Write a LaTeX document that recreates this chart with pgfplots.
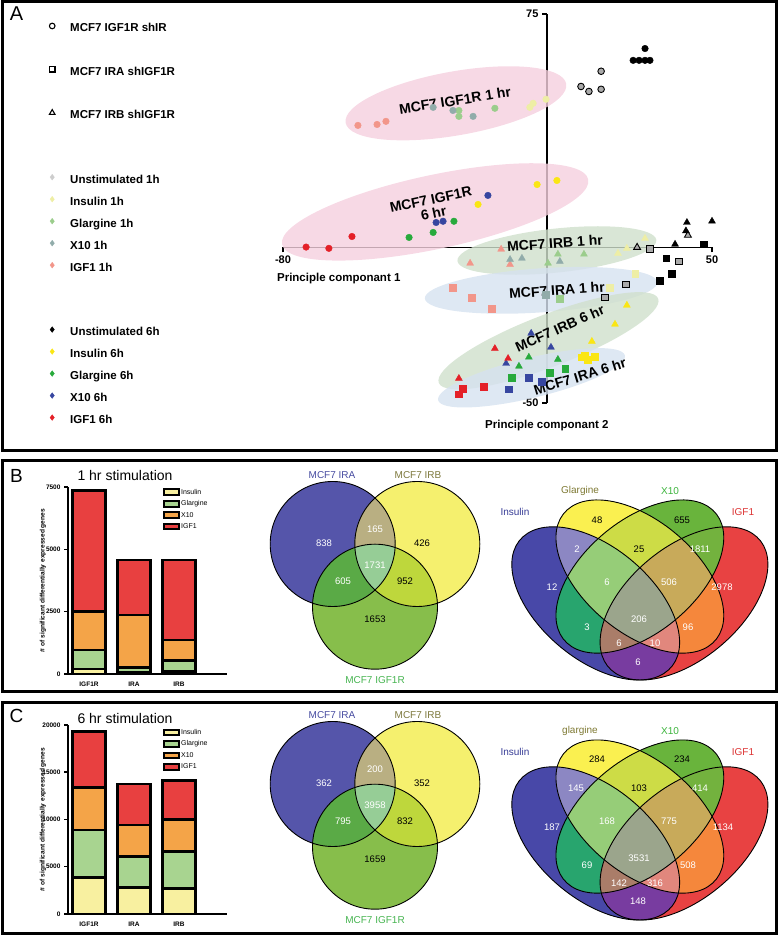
\documentclass[border=0pt]{standalone}
\usepackage{fontspec}
\setmainfont{Liberation Sans}
\usepackage{pgfplots}
\pgfplotsset{compat=1.18}
\usetikzlibrary{shapes.geometric}

\newcommand\fs[1]{\fontsize{#1}{#1}\selectfont}

% PCA colours
\definecolor{un1}{RGB}{170,170,170}
\definecolor{un1l}{RGB}{205,205,205}
\definecolor{in1}{RGB}{238,238,165}
\definecolor{gl1}{RGB}{155,205,140}
\definecolor{xt1}{RGB}{145,172,170}
\definecolor{ig1}{RGB}{242,150,138}
\definecolor{in6}{RGB}{250,230,20}
\definecolor{gl6}{RGB}{40,170,60}
\definecolor{xt6}{RGB}{55,70,160}
\definecolor{ig6}{RGB}{228,32,40}
\definecolor{elpink}{RGB}{245,208,222}
\definecolor{elgreen}{RGB}{208,224,204}
\definecolor{elblue}{RGB}{214,226,240}
% bar colours
\definecolor{bIns}{RGB}{248,240,160}
\definecolor{bGla}{RGB}{168,212,144}
\definecolor{bX}{RGB}{244,164,72}
\definecolor{bIgf}{RGB}{232,64,64}
% venn colours
\definecolor{tA}{RGB}{85,85,170}
\definecolor{tB}{RGB}{245,240,110}
\definecolor{tC}{RGB}{135,190,75}
\definecolor{tAB}{RGB}{185,175,130}
\definecolor{tAC}{RGB}{90,170,70}
\definecolor{tBC}{RGB}{190,215,60}
\definecolor{tABC}{RGB}{150,205,150}
\definecolor{vI}{RGB}{72,72,168}
\definecolor{vG}{RGB}{250,240,80}
\definecolor{vX}{RGB}{105,180,60}
\definecolor{vF}{RGB}{232,66,66}
\definecolor{vIG}{RGB}{140,135,195}
\definecolor{vIX}{RGB}{40,165,110}
\definecolor{vIF}{RGB}{120,60,160}
\definecolor{vGX}{RGB}{205,220,70}
\definecolor{vGF}{RGB}{245,135,60}
\definecolor{vXF}{RGB}{115,178,62}
\definecolor{vIGX}{RGB}{150,205,120}
\definecolor{vIGF}{RGB}{225,135,125}
\definecolor{vIXF}{RGB}{170,125,105}
\definecolor{vGXF}{RGB}{200,170,90}
\definecolor{vIGXF}{RGB}{155,165,140}
\definecolor{lIRA}{RGB}{70,75,160}
\definecolor{lIRB}{RGB}{125,120,60}
\definecolor{lIGF}{RGB}{70,180,80}
\definecolor{lIns}{RGB}{55,60,150}
\definecolor{lGla}{RGB}{125,120,50}
\definecolor{lX}{RGB}{60,180,60}
\definecolor{lF}{RGB}{220,50,50}

% three-set venn (cell lines)
\newcommand\CA[1]{#1 (-42.3,31) circle [radius=62.5];}
\newcommand\CB[1]{#1 (42.3,31) circle [radius=62.5];}
\newcommand\CC[1]{#1 (0,-31.7) circle [radius=62.5];}
\newcommand\Rg[2]{\begin{scope}[fill=#1]#2\end{scope}}
\newcommand\ThreeVenn{%
  \Rg{tA}{\CA\fill}\Rg{tB}{\CB\fill}\Rg{tC}{\CC\fill}
  \Rg{tAB}{\CA\clip\CB\fill}
  \Rg{tAC}{\CA\clip\CC\fill}
  \Rg{tBC}{\CB\clip\CC\fill}
  \Rg{tABC}{\CA\clip\CB\clip\CC\fill}
  \begin{scope}[line width=0.9pt]\CA\draw\CB\draw\CC\draw\end{scope}}
% four-set venn (ligands)
\newcommand\EI[1]{#1[rotate around={-45:(35,47)}] (35,47) ellipse [x radius=35, y radius=20];}
\newcommand\EG[1]{#1[rotate around={-45:(50,57)}] (50,57) ellipse [x radius=35, y radius=20];}
\newcommand\EX[1]{#1[rotate around={45:(50,57)}] (50,57) ellipse [x radius=35, y radius=20];}
\newcommand\EF[1]{#1[rotate around={45:(65,47)}] (65,47) ellipse [x radius=35, y radius=20];}
\newcommand\FourVenn{%
  \Rg{vI}{\EI\fill}\Rg{vG}{\EG\fill}\Rg{vX}{\EX\fill}\Rg{vF}{\EF\fill}
  \Rg{vIG}{\EI\clip\EG\fill}
  \Rg{vIX}{\EI\clip\EX\fill}
  \Rg{vIF}{\EI\clip\EF\fill}
  \Rg{vGX}{\EG\clip\EX\fill}
  \Rg{vGF}{\EG\clip\EF\fill}
  \Rg{vXF}{\EX\clip\EF\fill}
  \Rg{vIGX}{\EI\clip\EG\clip\EX\fill}
  \Rg{vIGF}{\EI\clip\EG\clip\EF\fill}
  \Rg{vIXF}{\EI\clip\EX\clip\EF\fill}
  \Rg{vGXF}{\EG\clip\EX\clip\EF\fill}
  \Rg{vIGXF}{\EI\clip\EG\clip\EX\clip\EF\fill}
  \begin{scope}[line width=0.9pt]\EI\draw\EG\draw\EX\draw\EF\draw\end{scope}}
\newcommand\vn[4]{\node[text=#3, font=\fs{9.5}] at (#1,#2) {#4};}

\pgfplotsset{
  C/.style={forget plot, only marks, mark=*, mark size=3.3pt, mark options={draw=#1, fill=#1}},
  S/.style={forget plot, only marks, mark=square*, mark size=3.4pt, mark options={draw=#1, fill=#1}},
  T/.style={forget plot, only marks, mark=triangle*, mark size=4pt, mark options={draw=#1, fill=#1}},
  CO/.style={forget plot, only marks, mark=*, mark size=3.3pt, mark options={draw=black, fill=un1, line width=0.9pt}},
  SO/.style={forget plot, only marks, mark=square*, mark size=3.4pt, mark options={draw=black, fill=un1, line width=0.9pt}},
  TO/.style={forget plot, only marks, mark=triangle*, mark size=4pt, mark options={draw=black, fill=un1, line width=0.9pt}},
  barax/.style={
    anchor=south west, scale only axis, width=159pt,
    ybar stacked, bar width=33pt,
    xmin=0.533, xmax=4.07, ymin=0, enlargelimits=false,
    axis x line=bottom, axis y line=left,
    axis line style={-, line width=2.8pt, black},
    xtick={1,2,3}, xticklabels={IGF1R,IRA,IRB}, xtick style={draw=none},
    tick align=outside, major tick length=4pt,
    ytick style={line width=1.5pt, black},
    ticklabel style={font=\fs{6.5}\bfseries},
    /pgf/number format/assume math mode=true,
    /pgf/number format/1000 sep={}, scaled y ticks=false,
    ylabel={\# of significant differentially expressed genes},
    ylabel style={font=\fs{6.6}\bfseries, at={(axis description cs:-0.157,0.5)}, anchor=center},
    every axis plot/.append style={draw=black, line width=2.8pt},
    legend cell align=left,
    legend style={anchor=north west, draw=none, fill=none, inner sep=0pt,
      row sep=3pt, font=\fs{7}, nodes={inner sep=1pt}},
    legend image code/.code={\draw[#1, line width=2pt] (0pt,-2.6pt) rectangle (15pt,3pt);},
    clip=false,
  },
}

\begin{document}
\begin{tikzpicture}
\useasboundingbox (0pt,0pt) rectangle (778pt,936pt);

% ---------- panel A: PCA ----------
\begin{axis}[
  at={(283pt,533pt)}, anchor=south west, scale only axis,
  width=429pt, height=389pt,
  xmin=-80, xmax=50, ymin=-50, ymax=75, enlargelimits=false,
  axis lines=middle, axis line style={-, line width=1.3pt, black},
  xtick={-80,50}, ytick={-50,75},
  tick align=outside, major tick length=5pt,
  tick style={line width=1.2pt, black},
  ticklabel style={font=\fs{11}\bfseries},
  /pgf/number format/assume math mode=true,
  clip=false,
  legend cell align=left,
  legend style={at={(axis description cs:-0.5524,0.9769)}, anchor=north west,
    draw=none, fill=none, inner sep=0pt, row sep=11.2pt,
    font=\fs{11.5}\bfseries,
    nodes={inner sep=0pt, text height=8pt, text depth=2pt}},
  legend image code/.code={\path[draw=none, fill=none] (0pt,0pt) (24pt,0pt);
    \draw[#1] plot coordinates {(6pt,3pt)};},
]
% group ellipses
\node[ellipse, inner sep=0pt, fill=elpink, fill opacity=0.8, minimum width=224pt, minimum height=64pt, rotate=10] at (axis cs:-27.6,46.3) {};
\node[ellipse, inner sep=0pt, fill=elpink, fill opacity=0.8, minimum width=313pt, minimum height=74pt, rotate=12] at (axis cs:-33.9,11.4) {};
\node[ellipse, inner sep=0pt, fill=elgreen, fill opacity=0.8, minimum width=200pt, minimum height=44pt, rotate=6] at (axis cs:3.0,-1.0) {};
\node[ellipse, inner sep=0pt, fill=elblue, fill opacity=0.8, minimum width=233pt, minimum height=44pt, rotate=4] at (axis cs:-1.8,-13.8) {};
\node[ellipse, inner sep=0pt, fill=elgreen, fill opacity=0.8, minimum width=235pt, minimum height=52pt, rotate=21] at (axis cs:0.45,-30.0) {};
\node[ellipse, inner sep=0pt, fill=elblue, fill opacity=0.8, minimum width=192pt, minimum height=40pt, rotate=13.5] at (axis cs:-4.7,-41.9) {};

% MCF7 IGF1R shIR (circles)
\addplot[C=black] coordinates {(29.7,63.9) (26.1,60.1) (27.9,60.1) (29.7,60.1) (31.2,60.1)};
\addplot[CO] coordinates {(16.4,56.6) (10.3,51.7) (12.7,50.1) (16.4,50.8)};
\addplot[C=in1] coordinates {(-0.3,47.6) (-5.2,45.0) (-4.2,46.3)};
\addplot[C=gl1] coordinates {(-26.7,44.0) (-26.7,42.1) (-15.8,44.7)};
\addplot[C=xt1] coordinates {(-34.5,45.0) (-28.5,44.0) (-22.4,42.1)};
\addplot[C=ig1] coordinates {(-57.3,39.2) (-51.5,39.5) (-48.8,40.5)};
\addplot[C=in6] coordinates {(-3.0,20.2) (3.0,21.5) (-20.9,13.8)};
\addplot[C=xt6] coordinates {(-17.9,16.7) (-33.6,8.0) (-31.5,8.4)};
\addplot[C=gl6] coordinates {(-28.2,8.4) (-34.5,4.8) (-41.8,3.2)};
\addplot[C=ig6] coordinates {(-59.1,3.5) (-73.0,0.1) (-66.1,-0.3)};
% MCF7 IRB shIGF1R (triangles)
\addplot[T=ig1] coordinates {(-13.9,-0.6) (-23.3,-5.1) (-11.2,-5.5)};
\addplot[T=xt1] coordinates {(-11.2,-3.9) (-7.6,-3.5) (3.9,-4.5)};
\addplot[T=gl1] coordinates {(3.3,-2.2) (11.2,-2.2) (0.3,-5.1)};
\addplot[T=in1] coordinates {(21.5,-1.9) (29.7,2.9) (24.2,-0.3)};
\addplot[TO] coordinates {(27.3,0.0) (42.7,3.9)};
\addplot[T=black] coordinates {(42.4,8.0) (42.1,5.3) (50.0,8.4) (38.8,1.0)};
\addplot[T=in6] coordinates {(24.2,-18.6) (20.6,-24.7) (13.6,-30.2)};
\addplot[T=xt6] coordinates {(-4.8,-27.6) (1.2,-32.1) (-12.4,-37.3)};
\addplot[T=gl6] coordinates {(-5.5,-35.3) (3.3,-36.0) (-8.5,-38.2)};
\addplot[T=ig6] coordinates {(-15.8,-32.5) (-11.8,-35.7) (-26.7,-42.1)};
% MCF7 IRA shIGF1R (squares)
\addplot[S=black] coordinates {(47.6,1.0) (36.1,-3.5) (37.9,-8.4) (34.2,-10.6)};
\addplot[SO] coordinates {(31.2,-0.6) (40.0,-4.5) (23.9,-11.9) (17.6,-16.1)};
\addplot[S=ig1] coordinates {(-28.5,-12.9) (-22.7,-16.1) (-16.7,-19.6)};
\addplot[S=gl1] coordinates {(3.9,-16.4)};
\addplot[S=xt1] coordinates {(-0.3,-15.1)};
\addplot[S=in1] coordinates {(26.7,-8.4) (19.1,-12.9)};
\addplot[S=in6] coordinates {(10.6,-35.3) (12.4,-36.0) (14.5,-35.0) (11.5,-34.7)};
\addplot[S=gl6] coordinates {(-10.6,-41.8) (0.9,-40.2) (5.5,-38.9)};
\addplot[S=xt6] coordinates {(-5.5,-41.8) (-11.5,-45.6) (-1.5,-43.1)};
\addplot[S=ig6] coordinates {(-25.5,-45.3) (-26.7,-47.2) (-19.1,-44.7)};

% group labels
\node[font=\fs{14}\bfseries, rotate=9] at (axis cs:-27.9,47.2) {MCF7 IGF1R 1 hr};
\node[font=\fs{14}\bfseries, rotate=12, align=center] at (axis cs:-34.8,13.2) {MCF7 IGF1R\\6 hr};
\node[font=\fs{14}\bfseries, rotate=4] at (axis cs:2.4,1.3) {MCF7 IRB 1 hr};
\node[font=\fs{14}\bfseries, rotate=4] at (axis cs:3.0,-13.8) {MCF7 IRA 1 hr};
\node[font=\fs{14}\bfseries, rotate=24] at (axis cs:3.9,-26.0) {MCF7 IRB 6 hr};
\node[font=\fs{14}\bfseries, rotate=17] at (axis cs:10.0,-41.5) {MCF7 IRA 6 hr};
\node[font=\fs{11.5}\bfseries] at (axis description cs:0.13,0.319) {Principle componant 1};
\node[font=\fs{11.5}\bfseries] at (axis description cs:0.615,-0.057) {Principle componant 2};

% legend
\addlegendimage{only marks, mark=o, mark size=2.8pt, black, mark options={line width=1.1pt}}
\addlegendentry{MCF7 IGF1R shIR}
\addlegendimage{empty legend}\addlegendentry{}
\addlegendimage{only marks, mark=square, mark size=2.8pt, black, mark options={line width=1.1pt}}
\addlegendentry{MCF7 IRA shIGF1R}
\addlegendimage{empty legend}\addlegendentry{}
\addlegendimage{only marks, mark=triangle, mark size=3.2pt, black, mark options={line width=1.1pt}}
\addlegendentry{MCF7 IRB shIGF1R}
\addlegendimage{empty legend}\addlegendentry{}
\addlegendimage{empty legend}\addlegendentry{}
\addlegendimage{only marks, mark=diamond*, mark size=2.8pt, un1l}
\addlegendentry{Unstimulated 1h}
\addlegendimage{only marks, mark=diamond*, mark size=2.8pt, in1}
\addlegendentry{Insulin 1h}
\addlegendimage{only marks, mark=diamond*, mark size=2.8pt, gl1}
\addlegendentry{Glargine 1h}
\addlegendimage{only marks, mark=diamond*, mark size=2.8pt, xt1}
\addlegendentry{X10 1h}
\addlegendimage{only marks, mark=diamond*, mark size=2.8pt, ig1}
\addlegendentry{IGF1 1h}
\addlegendimage{empty legend}\addlegendentry{}
\addlegendimage{empty legend}\addlegendentry{}
\addlegendimage{only marks, mark=diamond*, mark size=2.8pt, black}
\addlegendentry{Unstimulated 6h}
\addlegendimage{only marks, mark=diamond*, mark size=2.8pt, in6}
\addlegendentry{Insulin 6h}
\addlegendimage{only marks, mark=diamond*, mark size=2.8pt, gl6}
\addlegendentry{Glargine 6h}
\addlegendimage{only marks, mark=diamond*, mark size=2.8pt, xt6}
\addlegendentry{X10 6h}
\addlegendimage{only marks, mark=diamond*, mark size=2.8pt, ig6}
\addlegendentry{IGF1 6h}
\end{axis}

% ---------- panel B: 1 hr bars ----------
\begin{axis}[barax, at={(68pt,262pt)}, height=187pt, ymax=7500,
  ytick={0,2500,5000,7500},
  legend style={at={(axis description cs:0.597,0.995)}}]
\addplot[fill=bIns] coordinates {(1,200) (2,70) (3,100)};
\addlegendentry{Insulin}
\addplot[fill=bGla] coordinates {(1,760) (2,200) (3,435)};
\addlegendentry{Glargine}
\addplot[fill=bX] coordinates {(1,1540) (2,2100) (3,830)};
\addlegendentry{X10}
\addplot[fill=bIgf] coordinates {(1,4850) (2,2205) (3,3210)};
\addlegendentry{IGF1}
\end{axis}

% ---------- panel C: 6 hr bars ----------
\begin{axis}[barax, at={(68pt,22pt)}, height=189pt, ymax=20000,
  ytick={0,5000,10000,15000,20000},
  legend style={at={(axis description cs:0.597,0.984)}}]
\addplot[fill=bIns] coordinates {(1,3880) (2,2790) (3,2720)};
\addlegendentry{Insulin}
\addplot[fill=bGla] coordinates {(1,5010) (2,3270) (3,3880)};
\addlegendentry{Glargine}
\addplot[fill=bX] coordinates {(1,4480) (2,3360) (3,3420)};
\addlegendentry{X10}
\addplot[fill=bIgf] coordinates {(1,5920) (2,4340) (3,4090)};
\addlegendentry{IGF1}
\end{axis}

% ---------- venn diagrams ----------
\begin{scope}[shift={(375pt,361pt)}, x=1pt, y=1pt]\ThreeVenn\end{scope}
\begin{scope}[shift={(375pt,121pt)}, x=1pt, y=1pt]\ThreeVenn\end{scope}
\begin{scope}[shift={(492.7pt,206.3pt)}, x=1pt, y=1pt, xscale=2.943, yscale=2.687]\FourVenn\end{scope}
\begin{scope}[shift={(492.7pt,-33.7pt)}, x=1pt, y=1pt, xscale=2.943, yscale=2.687]\FourVenn\end{scope}

% ---------- frames, panel letters and venn text (image pixel coordinates) ----------
\begin{scope}[shift={(0pt,936pt)}, x=1pt, y=-1pt]
  \draw[line width=3pt] (2,2) rectangle (776,451);
  \draw[line width=3pt] (2,461) rectangle (776,692);
  \draw[line width=3pt] (2,703) rectangle (776,934);
  \node[font=\fs{20}] at (16.5,14) {A};
  \node[font=\fs{19}] at (16.5,476) {B};
  \node[font=\fs{19}] at (16.5,716) {C};
  \node[font=\fs{14}] at (125,476) {1 hr stimulation};
  \node[font=\fs{14}] at (125,718) {6 hr stimulation};
  % 3-set venn labels
  \node[font=\fs{10}, text=lIRA] at (332,475) {MCF7 IRA};
  \node[font=\fs{10}, text=lIRB] at (418,475) {MCF7 IRB};
  \node[font=\fs{10}, text=lIGF] at (375,680) {MCF7 IGF1R};
  \node[font=\fs{10}, text=lIRA] at (332,715) {MCF7 IRA};
  \node[font=\fs{10}, text=lIRB] at (418,715) {MCF7 IRB};
  \node[font=\fs{10}, text=lIGF] at (375,920) {MCF7 IGF1R};
  \vn{324}{543}{white}{838} \vn{375}{529}{white}{165} \vn{422}{543}{black}{426}
  \vn{375}{565}{white}{1731} \vn{343}{581}{white}{605} \vn{405}{581}{black}{952}
  \vn{375}{619}{black}{1653}
  \vn{324}{783}{white}{362} \vn{375}{769}{white}{200} \vn{422}{783}{black}{352}
  \vn{375}{805}{white}{3958} \vn{343}{821}{white}{795} \vn{405}{821}{black}{832}
  \vn{375}{859}{black}{1659}
  % 4-set venn labels
  \node[font=\fs{10}, text=lIns] at (515,512) {Insulin};
  \node[font=\fs{10}, text=lGla] at (580,491) {Glargine};
  \node[font=\fs{10}, text=lX] at (670,491) {X10};
  \node[font=\fs{10}, text=lF] at (743,512) {IGF1};
  \node[font=\fs{10}, text=lIns] at (515,752) {Insulin};
  \node[font=\fs{10}, text=lGla] at (580,731) {glargine};
  \node[font=\fs{10}, text=lX] at (670,731) {X10};
  \node[font=\fs{10}, text=lF] at (743,752) {IGF1};
  \vn{552}{587}{white}{12} \vn{597}{520}{black}{48} \vn{682}{520}{black}{655}
  \vn{722}{587}{white}{2978} \vn{577}{549}{white}{2} \vn{639}{549}{black}{25}
  \vn{700}{549}{white}{1811} \vn{607}{582}{white}{6} \vn{669}{582}{white}{506}
  \vn{587}{627}{white}{3} \vn{639}{619}{white}{206} \vn{688}{627}{white}{96}
  \vn{619}{643}{white}{6} \vn{655}{643}{white}{10} \vn{638}{662}{white}{6}
  \vn{552}{827}{white}{187} \vn{597}{759}{black}{284} \vn{682}{759}{black}{234}
  \vn{723}{827}{white}{1134} \vn{576}{788}{white}{145} \vn{639}{788}{black}{103}
  \vn{700}{788}{white}{414} \vn{607}{821}{white}{168} \vn{669}{821}{white}{775}
  \vn{587}{865}{white}{69} \vn{639}{858}{white}{3531} \vn{688}{865}{white}{508}
  \vn{619}{883}{white}{142} \vn{655}{883}{white}{316} \vn{638}{901}{white}{148}
\end{scope}
\end{tikzpicture}
\end{document}
